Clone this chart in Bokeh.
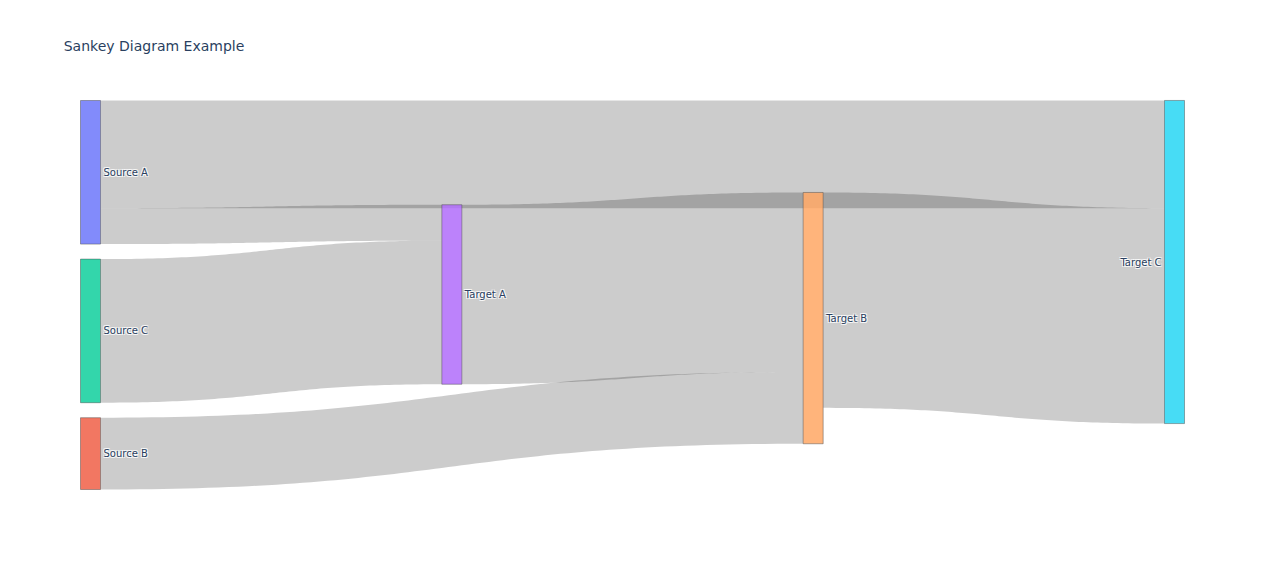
import numpy as np
from bokeh.plotting import figure
from bokeh.models import Range1d, ColumnDataSource
from bokeh.core.properties import value
from bokeh.embed import file_html
from bokeh.resources import INLINE

# ---------------- data ----------------
labels = ["Source A", "Source B", "Source C", "Target A", "Target B", "Target C"]
node_colors = ["#636efa", "#EF553B", "#00cc96", "#ab63fa", "#FFA15A", "#19d3f3"]
link_source = [0, 0, 2, 1, 3, 4]
link_target = [5, 3, 3, 4, 4, 5]
link_value = [3, 1, 4, 2, 5, 6]
title_text = "Sankey Diagram Example"

# ---------------- layout (plotly-like) ----------------
W, H = 1264, 569
M_L, M_R, M_T, M_B = 80, 80, 100, 80
NODE_W = 20
PAD = 15
dom_l, dom_r = M_L, W - M_R
dom_t, dom_b = M_T, H - M_B
dom_h = dom_b - dom_t

n = len(labels)
col = [0] * n
for _ in range(n):
    for s, t in zip(link_source, link_target):
        col[t] = max(col[t], col[s] + 1)
ncol = max(col) + 1

inflow = [0.0] * n
outflow = [0.0] * n
for s, t, v in zip(link_source, link_target, link_value):
    outflow[s] += v
    inflow[t] += v
node_val = [max(a, b) for a, b in zip(inflow, outflow)]

ky = min(
    (dom_h - PAD * (sum(1 for i in range(n) if col[i] == c) - 1))
    / sum(node_val[i] for i in range(n) if col[i] == c)
    for c in range(ncol)
)

first_col_order = [0, 2, 1]
relaxed_center = {3: 0.4987, 4: 0.5594, 5: 0.4152}
node_top = [0.0] * n
y = dom_t
for i in first_col_order:
    node_top[i] = y
    y += node_val[i] * ky + PAD
for i, fc in relaxed_center.items():
    node_top[i] = dom_t + fc * dom_h - node_val[i] * ky / 2
node_h = [v * ky for v in node_val]
col_step = (dom_r - dom_l - NODE_W) / (ncol - 1)
node_x0 = [dom_l + c * col_step for c in col]
node_x1 = [x + NODE_W for x in node_x0]

out_off = {}
for i in range(n):
    outs = sorted([k for k in range(len(link_value)) if link_source[k] == i],
                  key=lambda k: node_top[link_target[k]])
    yy = node_top[i]
    for k in outs:
        out_off[k] = yy
        yy += link_value[k] * ky
in_off = {}
for i in range(n):
    ins = sorted([k for k in range(len(link_value)) if link_target[k] == i],
                 key=lambda k: node_top[link_source[k]])
    yy = node_top[i]
    for k in ins:
        in_off[k] = yy
        yy += link_value[k] * ky

def bez(x0, y0, x1, y1, t, curv=0.5):
    xa = x0 + (x1 - x0) * curv
    xb = x0 + (x1 - x0) * (1 - curv)
    u = 1 - t
    bx = u**3 * x0 + 3 * u**2 * t * xa + 3 * u * t**2 * xb + t**3 * x1
    by = u**3 * y0 + 3 * u**2 * t * y0 + 3 * u * t**2 * y1 + t**3 * y1
    return bx, by

ts = np.linspace(0, 1, 80)
lxs, lys = [], []
for k in range(len(link_value)):
    s, t = link_source[k], link_target[k]
    x0, x1 = node_x1[s], node_x0[t]
    y0, y1 = out_off[k], in_off[k]
    h = link_value[k] * ky
    tx, ty = bez(x0, y0, x1, y1, ts)
    bx, by = bez(x0, y0 + h, x1, y1 + h, ts)
    lxs.append(list(tx) + list(bx[::-1]))
    lys.append(list(ty) + list(by[::-1]))

# ---------------- figure ----------------
FW, FH = W - 16, H - 16
p = figure(width=FW, height=FH,
           x_range=Range1d(0, FW), y_range=Range1d(FH, 0),
           output_backend="svg", toolbar_location=None, min_border=0)
p.axis.visible = False
p.grid.visible = False
p.outline_line_color = None
p.background_fill_color = "white"
p.border_fill_color = "white"

p.patches(xs=lxs, ys=lys, fill_color="black", fill_alpha=0.2, line_color=None)

nsrc = ColumnDataSource(dict(
    left=node_x0, right=node_x1, top=node_top,
    bottom=[a + b for a, b in zip(node_top, node_h)], color=node_colors))
p.quad(left="left", right="right", top="top", bottom="bottom", source=nsrc,
       fill_color="color", fill_alpha=0.8, line_color="#444444", line_width=0.5, line_alpha=0.9)

lab_x, lab_y, lab_align = [], [], []
for i in range(n):
    if col[i] == ncol - 1:
        lab_x.append(node_x0[i] - 3)
        lab_align.append("right")
    else:
        lab_x.append(node_x1[i] + 3)
        lab_align.append("left")
    lab_y.append(node_top[i] + node_h[i] / 2)
tsrc = ColumnDataSource(dict(x=lab_x, y=lab_y, text=labels, align=lab_align))
for dx, dy in [(1, 1), (-1, -1), (1, -1), (-1, 1)]:
    p.text(x="x", y="y", text="text", source=tsrc, text_align="align", text_baseline="middle",
           x_offset=dx, y_offset=dy, text_font=value("DejaVu Sans"), text_font_size="10px",
           text_color="white", text_alpha=0.8)
p.text(x="x", y="y", text="text", source=tsrc, text_align="align", text_baseline="middle",
       text_font=value("DejaVu Sans"), text_font_size="10px", text_color="#2a3f5f")

p.text(x=[0.05 * W], y=[M_T / 2 - 5], text=[title_text], text_baseline="middle",
       text_font=value("DejaVu Sans"), text_font_size="14px", text_color="#2a3f5f")

open("out.html", "w").write(file_html(p, INLINE))
